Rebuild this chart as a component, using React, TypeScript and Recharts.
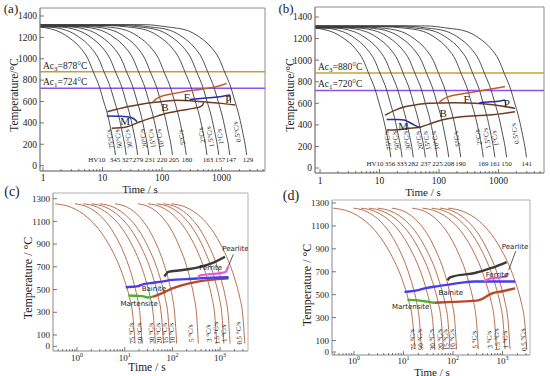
import React from 'react';
import { ComposedChart, Line, XAxis, YAxis, ReferenceLine, ReferenceArea, Scatter } from 'recharts';

const SERIF = '"Liberation Serif", "Times New Roman", serif';
const SANS = '"DejaVu Sans", "Open Sans", sans-serif';

// ---------- cooling-rate labels ----------
const ratesAB = ['75°C/s', '50°C/s', '30°C/s', '20°C/s', '15°C/s', '10°C/s', '5°C/s', '2°C/s', '1.5°C/s', '1°C/s', '0.5°C/s'];
const ratesCD = ['75 °C/s', '50 °C/s', '30 °C/s', '20 °C/s', '15 °C/s', '10 °C/s', '5 °C/s', '3 °C/s', '1.5 °C/s', '1 °C/s', '0.5 °C/s'];

// ---------- (a) / (b): temperature levels passed by every cooling curve ----------
const levelsAB = [1312, 1310, 1299, 1265, 1205, 1110, 1000, 878, 724, 613, 460, 303, 200, 100];
// start temperature of each curve (the bundle at the top left)
const topA = [1292, 1297, 1300, 1303, 1306, 1308, 1310, 1313, 1315, 1318, 1321];
const topB = [1290, 1295, 1299, 1302, 1305, 1308, 1310, 1312, 1315, 1318, 1320];

// time (s) at which each curve of (a) reaches levelsAB
const timesA = [
  [0.3, 0.33, 0.73, 1.65, 2.62, 4.13, 5.68, 7.0, 9.04, 10.3, 12.4, 14.2, 15.5, 16.5],
  [0.3, 0.5, 1.1, 2.5, 3.98, 6.25, 8.6, 10.6, 13.7, 15.7, 18.8, 21.6, 23.5, 25],
  [0.3, 0.78, 1.72, 3.9, 6.2, 9.75, 13.4, 16.5, 21.4, 24.4, 29.3, 33.7, 36.7, 39],
  [0.3, 1.2, 2.64, 6, 9.54, 15, 20.6, 25.4, 32.9, 37.6, 45, 51.8, 56.4, 60],
  [0.3, 1.9, 4.18, 9.5, 15.1, 23.8, 32.7, 40.3, 52.1, 59.5, 71.3, 82, 89.3, 95],
  [0.3, 3, 6.6, 15, 23.9, 37.5, 51.6, 63.6, 82.2, 93.9, 112, 129, 141, 150],
  [0.3, 5.1, 11.2, 25.5, 40.5, 63.8, 87.7, 108, 140, 160, 191, 220, 240, 255],
  [0.3, 11.4, 25.1, 57, 90.6, 143, 196, 242, 312, 357, 428, 492, 536, 570],
  [0.3, 18, 39.6, 90, 143, 225, 310, 382, 493, 563, 675, 777, 846, 900],
  [0.3, 27.6, 60.7, 138, 219, 345, 475, 585, 756, 864, 1035, 1191, 1297, 1380],
  [0.3, 53, 117, 265, 421, 663, 912, 1124, 1452, 1659, 1988, 2287, 2491, 2650],
];

const timesB = [
  [0.3, 0.31, 0.68, 1.55, 2.46, 3.88, 5.33, 6.57, 8.49, 9.7, 11.6, 13.4, 14.6, 15.5],
  [0.3, 0.48, 1.06, 2.4, 3.82, 6, 8.26, 10.2, 13.2, 15, 18, 20.7, 22.6, 24],
  [0.3, 0.74, 1.63, 3.7, 5.88, 9.25, 12.7, 15.7, 20.3, 23.2, 27.8, 31.9, 34.8, 37],
  [0.3, 1.18, 2.6, 5.9, 9.38, 14.8, 20.3, 25, 32.3, 36.9, 44.3, 50.9, 55.5, 59],
  [0.3, 1.86, 4.09, 9.3, 14.8, 23.3, 32, 39.4, 51, 58.2, 69.8, 80.3, 87.4, 93],
  [0.3, 2.92, 6.42, 14.6, 23.2, 36.5, 50.2, 61.9, 80, 91.4, 110, 126, 137, 146],
  [0.3, 4.64, 10.2, 23.2, 36.9, 58, 79.8, 98.4, 127, 145, 174, 200, 218, 232],
  [0.3, 11.1, 24.4, 55.5, 88.2, 139, 191, 235, 304, 347, 416, 479, 522, 555],
  [0.3, 17.4, 38.3, 87, 138, 218, 299, 369, 477, 545, 653, 751, 818, 870],
  [0.3, 27.4, 60.3, 137, 218, 343, 471, 581, 751, 858, 1028, 1182, 1288, 1370],
  [0.3, 59, 130, 295, 469, 738, 1015, 1251, 1617, 1847, 2213, 2546, 2773, 2950],
];

// transformation lines (a): [time s, temperature °C]
const bUpperA = [[12, 505], [18, 530], [25, 549], [40, 570], [70, 590], [120, 605], [175, 612], [300, 608], [430, 600], [900, 585], [1700, 567]];
const bLowerA = [[14.3, 350], [25, 362], [42.7, 411], [70, 450], [120, 490], [200, 515], [336, 536], [420, 548], [480, 565], [500, 590]];
const fUpperA = [[70, 595], [80, 625], [93, 645], [150, 672], [228, 692], [400, 710], [564, 723], [900, 745], [1220, 770]];
const pUpperA = [[290, 618], [400, 625], [600, 635], [1000, 648], [1400, 660]];
const pEdgeA = [[1390, 660], [1420, 588]];
const mUpperA = [[11.8, 464], [20, 462], [25.5, 458], [31, 448], [35, 430], [38, 411]];

// transformation lines (b)
const bUpperB = [[12.4, 491], [18, 535], [26.8, 568], [40, 585], [66, 600], [186, 605], [403, 600], [873, 584], [1893, 553]];
const bLowerB = [[13.2, 352], [20, 355], [30.5, 368], [51, 383], [75, 415], [111, 445], [240, 475], [675, 491], [1893, 522]];
const fUpperB = [[97, 600], [115, 635], [143, 661], [250, 688], [403, 707], [800, 735], [1285, 755]];
const pUpperB = [[470, 600], [520, 607], [768, 614], [1000, 620], [1285, 630]];
const pEdgeB = [[1285, 630], [1330, 575]];
const mUpperB = [[13.2, 451], [20.7, 451], [26, 445], [30.5, 429], [38, 400], [48, 373]];

// label positions (a)/(b)
const rateTimeA = [13.4, 18.4, 27.2, 48.5, 67, 92.5, 214, 464, 641, 944, 1800];
const rateTempA = [250, 250, 250, 255, 255, 255, 265, 285, 270, 270, 315];
const rateTimeB = [13.7, 18.7, 28.6, 46, 62, 86, 198, 458, 632, 870, 1890];
const rateTempB = [255, 255, 255, 255, 255, 255, 270, 285, 275, 275, 320];
const hvTextA = ['HV10', '345', '327', '279', '231', '220', '205', '180', '163', '157', '147', '129'];
const hvTimeA = [8.0, 16.2, 25.8, 39.5, 63, 100, 159, 264, 591, 940, 1440, 2800];
const hvTextB = ['HV10', '356', '333', '282', '237', '225', '208', '190', '169', '161', '150', '141'];
const hvTimeB = [8.4, 15, 23.6, 37, 60, 94, 147, 230, 553, 870, 1370, 2980];
const phaseAB = ['M', 'B', 'F', 'P'];
const phaseTimeA = [23.9, 112, 260, 1300];
const phaseTempA = [420, 546, 645, 620];
const phaseTimeB = [25, 118, 292, 1380];
const phaseTempB = [389, 507, 637, 600];

// ---------- (c) / (d) ----------
const levelsCD = [1255, 1224, 1138, 1027, 861, 714, 578, 431, 283, 25];

const timesC = [
  [0.35, 0.757, 1.63, 2.91, 5.19, 7.62, 9.98, 12.6, 14.7, 16.5],
  [0.9, 1.72, 3.29, 5.35, 8.71, 12.0, 15.1, 18.3, 20.9, 23],
  [1.35, 2.71, 5.43, 9.16, 15.5, 21.9, 27.9, 34.4, 39.6, 44],
  [2.0, 4.01, 8.05, 13.6, 22.9, 32.4, 41.3, 50.9, 58.6, 65],
  [3.0, 5.9, 11.6, 19.4, 32.1, 45.2, 57.3, 70.2, 80.4, 89],
  [6.3, 11.4, 20.7, 32.3, 50.4, 67.9, 83.6, 100, 112, 123],
  [19, 34, 61, 94.4, 146, 196, 240, 285, 321, 350],
  [31, 60.1, 116, 191, 315, 438, 552, 673, 769, 850],
  [47, 89.8, 172, 279, 454, 628, 787, 957, 1089, 1200],
  [65, 124, 235, 381, 618, 853, 1067, 1294, 1472, 1620],
  [95, 193, 393, 670, 1140, 1625, 2084, 2578, 2972, 3300],
];

const timesD = [
  [0.38, 0.813, 1.74, 3.07, 5.43, 7.94, 10.4, 13.0, 15.2, 17],
  [0.97, 1.83, 3.44, 5.54, 8.91, 12.2, 15.3, 18.5, 20.9, 23],
  [1.38, 2.75, 5.46, 9.14, 15.3, 21.6, 27.5, 33.7, 38.7, 43],
  [2.0, 4.0, 8.0, 13.5, 22.6, 32.0, 40.7, 50.2, 57.7, 64],
  [3.0, 5.89, 11.5, 19.1, 31.7, 44.4, 56.2, 68.8, 78.7, 87],
  [5.8, 10.6, 19.4, 30.4, 47.8, 64.6, 79.8, 95.5, 108, 118],
  [15, 27.7, 51.3, 81.4, 129, 176, 218, 262, 296, 325],
  [24, 47.9, 95.5, 161, 270, 381, 485, 597, 685, 760],
  [37, 73.3, 145, 243, 406, 570, 724, 889, 1019, 1130],
  [55, 105, 202, 329, 535, 741, 929, 1130, 1288, 1420],
  [80, 166, 345, 597, 1035, 1489, 1928, 2399, 2773, 3100],
];

const pearliteC = [[68, 615], [72, 630], [82, 655], [150, 670], [379, 700], [700, 735], [1267, 789]];
const ferriteC = [[340, 600], [380, 625], [600, 635], [1000, 645], [1300, 655], [1400, 675], [1480, 705]];
const bainiteC = [[10.5, 520], [12, 523], [18, 528], [25, 548], [40, 560], [60, 570], [100, 585], [200, 592], [380, 600], [700, 605], [1500, 608]];
const lowerC = [[38, 435], [47, 448], [70, 480], [100, 510], [150, 535], [300, 565], [600, 585], [1500, 600]];
const martC = [[12, 448], [18, 445], [25, 440], [30, 430], [38, 435]];
const pointerC = [[1500, 708], [1890, 810]];

const pearliteD = [[78, 625], [85, 648], [102, 660], [277, 689], [605, 733], [1210, 785]];
const ferriteD = [[430, 615], [550, 640], [900, 650], [1200, 660], [1300, 690]];
const bainiteD = [[10.5, 525], [13, 528], [20, 540], [27, 555], [50, 575], [81, 588], [150, 605], [277, 615], [1000, 615], [1800, 615]];
const lowerD = [[42, 430], [100, 437], [300, 448], [370, 460], [600, 510], [1000, 530], [1800, 555]];
const martD = [[12, 455], [20, 450], [30, 440], [42, 430]];
const pointerD = [[1330, 715], [1850, 880]];

const rateTimeC = [13.8, 20.5, 36, 51, 70, 97, 240, 570, 830, 1200, 2450];
const rateTimeD = [15.3, 21.5, 37.2, 54.6, 71.1, 96.8, 269, 541, 764, 1125, 2630];
const phaseCD = ['Pearlite', 'Ferrite', 'Bainite', 'Martensite'];
const phaseTimeC = [2100, 634, 41, 20];
const phaseTempC = [857, 696, 513, 381];
const phaseTimeD = [1790, 774, 90, 14];
const phaseTempD = [922, 680, 515, 399];

// ---------- axes ----------
const xMajor = [1, 10, 100, 1000];
const xMajorLabelsAB = ['1', '10', '100', '1000'];
const xMajorExpCD = ['0', '1', '2', '3'];
const xMinorAB = [2, 3, 4, 5, 6, 7, 8, 9, 20, 30, 40, 50, 60, 70, 80, 90, 200, 300, 400, 500, 600, 700, 800, 900, 2000, 3000, 4000, 5000];
const xMinorCD = [0.4, 0.5, 0.6, 0.7, 0.8, 0.9, 2, 3, 4, 5, 6, 7, 8, 9, 20, 30, 40, 50, 60, 70, 80, 90, 200, 300, 400, 500, 600, 700, 800, 900, 2000, 3000];
const yTicksAB = [0, 200, 400, 600, 800, 1000, 1200, 1400];
const yTicksCD = [0, 100, 300, 500, 700, 900, 1100, 1300];

type Pt = { t: number; T: number };
type Series = { pts: Pt[]; color: string; width: number };
type Mark = { t: number; T: number; text: string; size: number; font: string; rot?: number; color?: string };
type RefL = { y: number; color: string; sub: string; value: string };

const pairs = (arr: number[][]): Pt[] => arr.map(([t, T]) => ({ t, T }));
const curves = (times: number[][], levels: number[], tops?: number[]): Pt[][] =>
  times.map((ts, k) =>
    ts.map((t, i) => ({ t, T: tops && i < 2 ? tops[k] - i * 2 : levels[i] }))
  );

interface Cfg {
  left: number; top: number; width: number; height: number;
  mTop: number; mRight: number; yW: number; xH: number;
  xDomain: [number, number]; yDomain: [number, number];
  xMinor: number[]; yTicks: number[];
  xLabel: (i: number) => React.ReactNode;
  tickSize: number; xLabelDy: number; frame: string;
  series: Series[]; marks: Mark[]; refs: RefL[];
}

const markShape = (p: any) => {
  const m: Mark = p.payload;
  const { cx, cy } = p;
  return (
    <text
      x={cx}
      y={cy}
      dy="0.35em"
      textAnchor="middle"
      transform={m.rot ? `rotate(${m.rot} ${cx} ${cy})` : undefined}
      fontFamily={m.font}
      fontSize={m.size}
      fill={m.color ?? '#222'}
    >
      {m.text}
    </text>
  );
};

const Panel = ({ cfg }: { cfg: Cfg }) => {
  const allX = [...xMajor, ...cfg.xMinor].sort((a, b) => a - b);
  const xTick = (p: any) => {
    const v = p.payload.value;
    const idx = xMajor.indexOf(v);
    return (
      <g>
        <line x1={p.x} x2={p.x} y1={p.y} y2={p.y - (idx >= 0 ? 4 : 2)} stroke="#555" strokeWidth={0.8} />
        {idx >= 0 && (
          <text x={p.x} y={p.y + cfg.xLabelDy} dy="0.35em" textAnchor="middle" fontFamily={SERIF} fontSize={cfg.tickSize} fill="#222">
            {cfg.xLabel(idx)}
          </text>
        )}
      </g>
    );
  };
  const yTick = (p: any) => (
    <g>
      <line x1={p.x} x2={p.x + 4} y1={p.y} y2={p.y} stroke="#555" strokeWidth={0.8} />
      <text x={p.x - 3} y={p.y} dy="0.35em" textAnchor="end" fontFamily={SERIF} fontSize={cfg.tickSize} fill="#222">
        {p.payload.value}
      </text>
    </g>
  );
  return (
    <div style={{ position: 'absolute', left: cfg.left, top: cfg.top }}>
      <ComposedChart width={cfg.width} height={cfg.height} margin={{ top: cfg.mTop, right: cfg.mRight, bottom: 0, left: 0 }}>
        <XAxis
          dataKey="t" type="number" scale="log" domain={cfg.xDomain} allowDataOverflow
          ticks={allX} interval={0} tickSize={0} tickMargin={0} tickLine={false}
          axisLine={{ stroke: cfg.frame }} height={cfg.xH} tick={xTick}
        />
        <YAxis
          dataKey="T" type="number" domain={cfg.yDomain} allowDataOverflow
          ticks={cfg.yTicks} interval={0} tickSize={0} tickMargin={0} tickLine={false}
          axisLine={{ stroke: cfg.frame }} width={cfg.yW} tick={yTick}
        />
        {cfg.refs.map((r, i) => (
          <ReferenceLine
            key={`r${i}`}
            y={r.y}
            stroke={r.color}
            strokeWidth={1.5}
            label={(lp: any) => (
              <text x={lp.viewBox.x + 3} y={lp.viewBox.y - 3} fontFamily={SERIF} fontSize={9.5} fill="#222">
                Ac<tspan dy={2} fontSize={7}>{r.sub}</tspan>
                <tspan dy={-2}>{r.value}</tspan>
              </text>
            )}
          />
        ))}
        {cfg.series.map((s, i) => (
          <Line
            key={`s${i}`}
            data={s.pts}
            dataKey="T"
            type="monotone"
            stroke={s.color}
            strokeWidth={s.width}
            dot={false}
            activeDot={false}
            isAnimationActive={false}
          />
        ))}
        <Scatter data={cfg.marks} isAnimationActive={false} shape={markShape} />
        <ReferenceArea
          x1={cfg.xDomain[0]} x2={cfg.xDomain[1]} y1={cfg.yDomain[0]} y2={cfg.yDomain[1]}
          fill="none" stroke={cfg.frame} strokeWidth={1} fillOpacity={0}
        />
      </ComposedChart>
    </div>
  );
};

const AB_CURVE = '#3c3c3c';
const B_LINE = '#6e3b22';
const F_LINE = '#c45a32';
const BLUE = '#2a2aa8';
const CD_CURVE = '#b8704f';

const abSeries = (times: number[][], tops: number[], b1: number[][], b2: number[][], f: number[][], p: number[][], pe: number[][], m: number[][]): Series[] => [
  ...curves(times, levelsAB, tops).map((pts) => ({ pts, color: AB_CURVE, width: 0.9 })),
  { pts: pairs(b1), color: B_LINE, width: 1.5 },
  { pts: pairs(b2), color: B_LINE, width: 1.5 },
  { pts: pairs(f), color: F_LINE, width: 1.5 },
  { pts: pairs(p), color: BLUE, width: 1.5 },
  { pts: pairs(pe), color: '#333', width: 1 },
  { pts: pairs(m), color: BLUE, width: 1.5 },
];

const abMarks = (rt: number[], rT: number[], hvT: string[], hvt: number[], hvTemp: number, pt: number[], pT: number[]): Mark[] => [
  ...ratesAB.map((text, i) => ({ t: rt[i], T: rT[i], text, size: 7, font: SERIF, rot: -100 })),
  ...hvT.map((text, i) => ({ t: hvt[i], T: hvTemp, text, size: 7, font: SERIF })),
  ...phaseAB.map((text, i) => ({ t: pt[i], T: pT[i], text, size: 11, font: SERIF })),
];

const cdSeries = (times: number[][], pe: number[][], fe: number[][], ba: number[][], lo: number[][], ma: number[][], po: number[][]): Series[] => [
  ...curves(times, levelsCD).map((pts) => ({ pts, color: CD_CURVE, width: 1 })),
  { pts: pairs(lo), color: '#b54a2a', width: 2.4 },
  { pts: pairs(ba), color: '#4a3ee8', width: 2.4 },
  { pts: pairs(fe), color: '#e05ae0', width: 2.2 },
  { pts: pairs(pe), color: '#3a3a3a', width: 2.4 },
  { pts: pairs(ma), color: '#4caf2f', width: 2.4 },
  { pts: pairs(po), color: '#333', width: 0.8 },
];

const cdMarks = (rt: number[], rTemp: number, pt: number[], pT: number[]): Mark[] => [
  ...ratesCD.map((text, i) => ({ t: rt[i], T: rTemp, text, size: 7, font: SERIF, rot: -95 })),
  ...phaseCD.map((text, i) => ({ t: pt[i], T: pT[i], text, size: 7, font: SANS })),
];

const expLabel = (i: number) => (
  <>
    <tspan>10</tspan>
    <tspan dy={-4} fontSize={6}>{xMajorExpCD[i]}</tspan>
  </>
);

const cfgA: Cfg = {
  left: 0, top: 0, width: 275, height: 188, mTop: 8, mRight: 10, yW: 40, xH: 17,
  xDomain: [0.89, 5380], yDomain: [-50, 1475], xMinor: xMinorAB, yTicks: yTicksAB,
  xLabel: (i) => xMajorLabelsAB[i], tickSize: 9.5, xLabelDy: 7, frame: '#8c8c8c',
  series: abSeries(timesA, topA, bUpperA, bLowerA, fUpperA, pUpperA, pEdgeA, mUpperA),
  marks: abMarks(rateTimeA, rateTempA, hvTextA, hvTimeA, 60, phaseTimeA, phaseTempA),
  refs: [
    { y: 878, color: '#c8a032', sub: '3', value: '=878°C' },
    { y: 724, color: '#8a52f2', sub: '1', value: '=724°C' },
  ],
};

const cfgB: Cfg = {
  left: 275, top: 0, width: 275, height: 188, mTop: 7, mRight: 6, yW: 40, xH: 15,
  xDomain: [0.824, 5820], yDomain: [-46, 1493], xMinor: xMinorAB, yTicks: yTicksAB,
  xLabel: (i) => xMajorLabelsAB[i], tickSize: 9.5, xLabelDy: 7.5, frame: '#8c8c8c',
  series: abSeries(timesB, topB, bUpperB, bLowerB, fUpperB, pUpperB, pEdgeB, mUpperB),
  marks: abMarks(rateTimeB, rateTempB, hvTextB, hvTimeB, 44, phaseTimeB, phaseTempB),
  refs: [
    { y: 880, color: '#c8a032', sub: '3', value: '=880°C' },
    { y: 720, color: '#8a52f2', sub: '1', value: '=720°C' },
  ],
};

const cfgC: Cfg = {
  left: 0, top: 188, width: 275, height: 188, mTop: 5, mRight: 27, yW: 53, xH: 25,
  xDomain: [0.314, 3845], yDomain: [-41, 1350], xMinor: xMinorCD, yTicks: yTicksCD,
  xLabel: expLabel, tickSize: 9, xLabelDy: 6.5, frame: '#b0b0b0',
  series: cdSeries(timesC, pearliteC, ferriteC, bainiteC, lowerC, martC, pointerC),
  marks: cdMarks(rateTimeC, 115, phaseTimeC, phaseTempC),
  refs: [],
};

const cfgD: Cfg = {
  left: 275, top: 188, width: 275, height: 188, mTop: 12, mRight: 20, yW: 57, xH: 21,
  xDomain: [0.36, 3594], yDomain: [-26, 1326], xMinor: xMinorCD, yTicks: yTicksCD,
  xLabel: expLabel, tickSize: 9, xLabelDy: 5.5, frame: '#b0b0b0',
  series: cdSeries(timesD, pearliteD, ferriteD, bainiteD, lowerD, martD, pointerD),
  marks: cdMarks(rateTimeD, 107, phaseTimeD, phaseTempD),
  refs: [],
};

const Txt = ({ x, y, size, rot, children }: { x: number; y: number; size: number; rot?: number; children: React.ReactNode }) => (
  <div
    style={{
      position: 'absolute', left: x, top: y, fontSize: size, fontFamily: SERIF, lineHeight: 1,
      whiteSpace: 'nowrap', color: '#222',
      transform: `translate(-50%, -50%)${rot ? ` rotate(${rot}deg)` : ''}`,
    }}
  >
    {children}
  </div>
);

export default function App() {
  return (
    <div style={{ position: 'absolute', left: 0, top: 0, width: 550, height: 376, background: '#fff', overflow: 'hidden' }}>
      <Panel cfg={cfgA} />
      <Panel cfg={cfgB} />
      <Panel cfg={cfgC} />
      <Panel cfg={cfgD} />

      <Txt x={11} y={8} size={13}>(a)</Txt>
      <Txt x={286} y={8} size={13}>(b)</Txt>
      <Txt x={12} y={192} size={14}>(c)</Txt>
      <Txt x={291} y={196} size={14}>(d)</Txt>

      <Txt x={15} y={95} size={11.5} rot={-90}>Temperature/°C</Txt>
      <Txt x={291} y={95} size={11.5} rot={-90}>Temperature/°C</Txt>
      <Txt x={28} y={278} size={12} rot={-90}>Temperature / °C</Txt>
      <Txt x={307} y={285} size={12} rot={-90}>Temperature / °C</Txt>

      <Txt x={140} y={189} size={11}>Time / s</Txt>
      <Txt x={423} y={192} size={11}>Time / s</Txt>
      <Txt x={147} y={368} size={11.5}>Time / s</Txt>
      <Txt x={432} y={371.5} size={11}>Time / s</Txt>
    </div>
  );
}
